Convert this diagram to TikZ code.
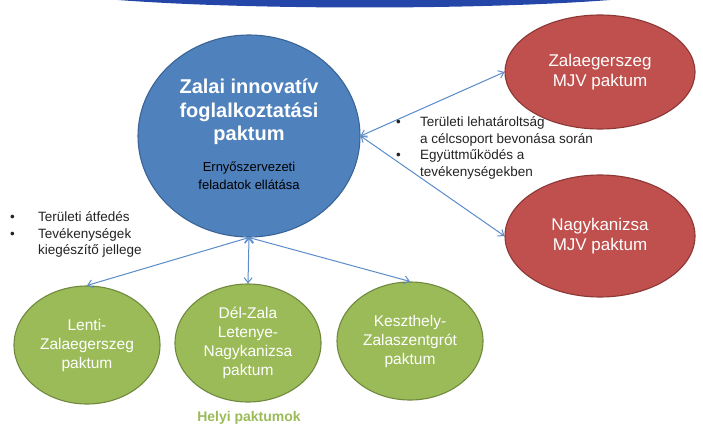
\documentclass[tikz,border=0pt]{standalone}
\usepackage{fontspec}
\setmainfont{Liberation Sans}
\usetikzlibrary{shapes.geometric,arrows.meta}
\definecolor{topblue}{HTML}{2346A8}
\definecolor{pblue}{HTML}{4F81BD}
\definecolor{pblueb}{HTML}{3A6496}
\definecolor{pred}{HTML}{C0504D}
\definecolor{predb}{HTML}{8C3836}
\definecolor{pgreen}{HTML}{9BBB59}
\definecolor{pgreenb}{HTML}{71893F}
\definecolor{linkblue}{HTML}{5B8BC9}
\definecolor{bultext}{HTML}{222222}

\begin{document}
\begin{tikzpicture}[x=1pt,y=-1pt,>={Straight Barb[length=5pt,width=8pt]},
    pakt/.style={ellipse,draw,line width=1.1pt,inner sep=0pt,align=center,text=white},
    link/.style={<->,draw=linkblue,line width=1pt},
    bul/.style={anchor=base west,align=left,text=bultext,inner sep=0pt,font=\fontsize{13.5}{16.5}\selectfont}]
        \useasboundingbox (0,0) rectangle (703,427);
        \fill[topblue] (118,0) .. controls (250,10) and (480,10) .. (610,0) -- cycle;

        % megyei paktum
        \node[pakt,fill=pblue,draw=pblueb,minimum width=222pt,minimum height=202pt] (main) at (249,136) {};
        \node[text=white,align=center,font=\fontsize{20}{23.5}\selectfont\bfseries] (title) at (249,112) {Zalai innovatív\\foglalkoztatási\\paktum};
        \node[text=black,align=center,font=\fontsize{13}{18}\selectfont] (sub) at (249,176) {Ernyőszervezeti\\feladatok ellátása};

        % MJV paktumok
        \node[pakt,fill=pred,draw=predb,minimum width=190pt,minimum height=114pt,font=\fontsize{17}{20.5}\selectfont] (zeg) at (600,72) {Zalaegerszeg\\MJV paktum};
        \node[pakt,fill=pred,draw=predb,minimum width=190pt,minimum height=122pt,font=\fontsize{17}{20.5}\selectfont] (nk) at (600,236) {Nagykanizsa\\MJV paktum};

        % helyi paktumok
        \foreach \n/\x/\y/\txt in {lenti/87/345/{Lenti-\\Zalaegerszeg\\paktum},dz/248/343/{Dél-Zala\\Letenye-\\Nagykanizsa\\paktum},kesz/410/341/{Keszthely-\\Zalaszentgrót\\paktum}}
        {
            \node[pakt,fill=pgreen,draw=pgreenb,minimum width=146pt,minimum height=118pt,font=\fontsize{15.5}{19}\selectfont] (\n) at (\x,\y) {\txt};
        }
        \node[text=pgreen,font=\fontsize{14}{16}\selectfont\bfseries] (helyi) at (249,418) {Helyi paktumok};

        \draw[link] (main.east) -- (zeg.west);
        \draw[link] (main.east) -- (nk.west);
        \draw[link] (main.south) -- (lenti.north);
        \draw[link] (main.south) -- (dz.north);
        \draw[link] (main.south) -- (kesz.north);

        % base = last line
        \node[bul] (lbul) at (10,255) {\makebox[28pt][l]{\textbullet}Területi átfedés\\\makebox[28pt][l]{\textbullet}Tevékenységek\\\hspace*{28pt}kiegészítő jellege};
        \node[bul] (rbul) at (396,176.5) {\makebox[24pt][l]{\textbullet}Területi lehatároltság\\\hspace*{24pt}a célcsoport bevonása során\\\makebox[24pt][l]{\textbullet}Együttműködés a\\\hspace*{24pt}tevékenységekben};
\end{tikzpicture}
\end{document}
